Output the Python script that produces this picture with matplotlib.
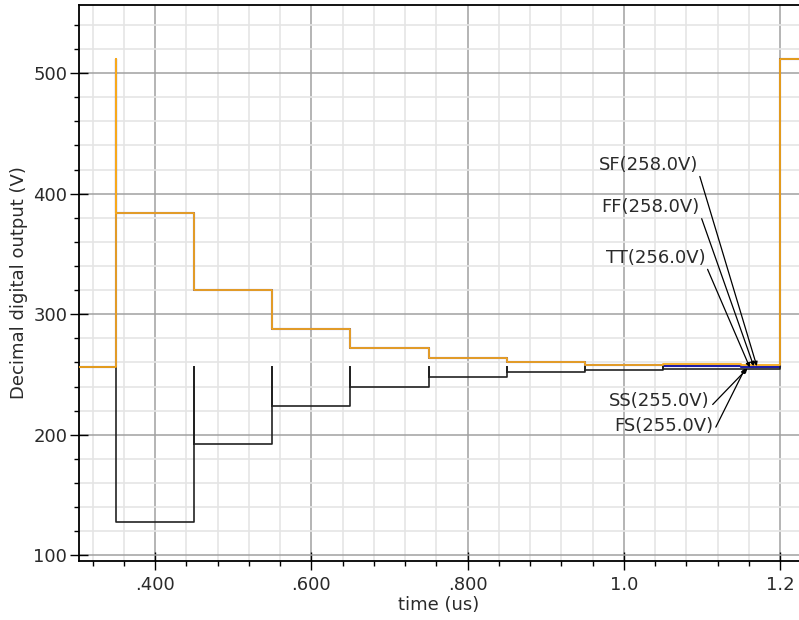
import numpy as np
import matplotlib
matplotlib.use("Agg")
import matplotlib.pyplot as plt
from matplotlib.ticker import FixedLocator, FixedFormatter, MultipleLocator

# step boundaries (us) and decimal output level after each step
t_start = 0.303
t_bound = [0.35, 0.45, 0.55, 0.65, 0.75, 0.85, 0.95, 1.05, 1.15]
t_next = 1.20
t_end = 1.225
v_init = 256
v_next = 512

orange_trial = [512, 384, 320, 288, 272, 264, 260, 258, 259]
orange_level = [384, 320, 288, 272, 264, 260, 258, 259, 258]
blue_trial = [512, 384, 320, 288, 272, 264, 260, 258, 257]
blue_level = [384, 320, 288, 272, 264, 260, 258, 257, 256]
black_trial = [256, 256, 256, 256, 256, 256, 256, 256, 255]
black_level = [128, 192, 224, 240, 248, 252, 254, 255, 255]

# corner labels: text position (us, V) and arrow end (us, V)
labels = ["SF(258.0V)", "FF(258.0V)", "TT(256.0V)", "SS(255.0V)", "FS(255.0V)"]
label_pos = [(1.095, 424), (1.097, 389), (1.104, 347), (1.110, 228), (1.114, 207)]
label_tip = [(1.170, 257), (1.166, 257), (1.161, 256), (1.158, 255), (1.155, 255)]

xticks = [0.4, 0.6, 0.8, 1.0, 1.2]
xticklabels = [".400", ".600", ".800", "1.0", "1.2"]
yticks = [100, 200, 300, 400, 500]


def build_path(trial, level):
    # step trace: at each boundary go prev -> trial -> new level
    t = [t_start]
    v = [v_init]
    prev = v_init
    for tb, tr, lv in zip(t_bound, trial, level):
        t += [tb, tb, tb]
        v += [prev, tr, lv]
        prev = lv
    t += [t_next, t_next, t_end]
    v += [prev, v_next, v_next]
    return t, v


plt.rcParams["font.family"] = "DejaVu Sans"
fig = plt.figure(figsize=(7.99, 6.20), dpi=100)
ax = fig.add_axes([79 / 799, 59 / 620, 720 / 799, 556 / 620])

ax.set_xlim(0.3027, 1.224)
ax.set_ylim(95.4, 556.4)

ax.xaxis.set_major_locator(FixedLocator(xticks))
ax.xaxis.set_major_formatter(FixedFormatter(xticklabels))
ax.xaxis.set_minor_locator(MultipleLocator(0.04))
ax.yaxis.set_major_locator(FixedLocator(yticks))
ax.yaxis.set_minor_locator(MultipleLocator(20))

ax.grid(which="minor", color="#e5e5e5", linewidth=1.2, zorder=0)
ax.grid(which="major", color="#a0a0a0", linewidth=1.1, zorder=0)
ax.set_axisbelow(True)

ax.tick_params(which="major", direction="inout", length=13, width=1, labelsize=13,
               colors="black", labelcolor="#2a2a2a", pad=2)
ax.tick_params(which="minor", direction="out", length=3.5, width=1)
ax.tick_params(axis="x", which="major", pad=4)

ax.spines["right"].set_visible(False)
for s in ["left", "bottom", "top"]:
    ax.spines[s].set_linewidth(1.3)

tb, vb = build_path(blue_trial, blue_level)
ax.plot(tb, vb, color="#1f1fa8", linewidth=1.5, zorder=3)
tk, vk = build_path(black_trial, black_level)
ax.plot(tk, vk, color="#222222", linewidth=1.2, zorder=4)
to, vo = build_path(orange_trial, orange_level)
ax.plot(to, vo, color="#f7a91c", linewidth=1.3, zorder=5)

for txt, pos, tip in zip(labels, label_pos, label_tip):
    ax.annotate(txt, xy=tip, xytext=pos, ha="right", va="center",
                fontsize=13, color="#2a2a2a", zorder=6,
                arrowprops=dict(arrowstyle="-|>", color="black", lw=0.9,
                                mutation_scale=6, shrinkA=0, shrinkB=0,
                                relpos=(1, 0.15)))

ax.set_xlabel("time (us)", fontsize=13, color="#2a2a2a", labelpad=2)
ax.set_ylabel("Decimal digital output (V)", fontsize=13, color="#2a2a2a", labelpad=4)

fig.savefig("out.png", dpi=100)
